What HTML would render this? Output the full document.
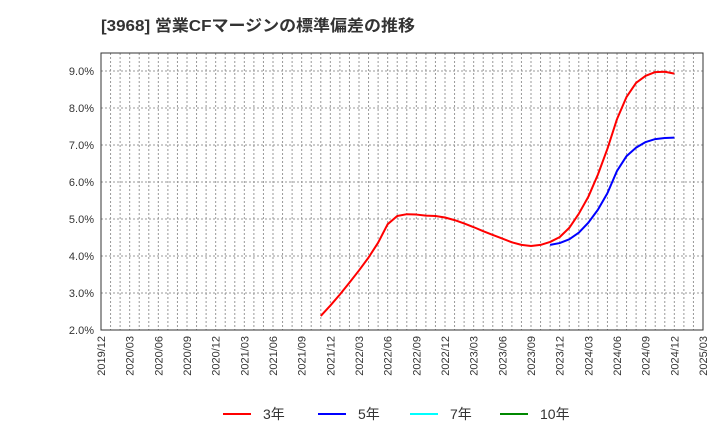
<!DOCTYPE html>
<html><head><meta charset="utf-8"><style>
body{margin:0;background:#fff;font-family:"Liberation Sans","Noto Sans CJK JP",sans-serif}
svg text{font-family:"Liberation Sans","Noto Sans CJK JP",sans-serif}
</style></head><body>
<svg id="c" width="720" height="440" xmlns="http://www.w3.org/2000/svg">
<text x="101" y="31" font-size="16" font-weight="bold" fill="#333" textLength="314" lengthAdjust="spacingAndGlyphs">[3968]  営業CFマージンの標準偏差の推移</text>
<g id="grid"></g><g id="axes"></g><g id="series"></g>
<g id="legend"></g>
</svg>
<script>
const xLabels=["2019/12","2020/03","2020/06","2020/09","2020/12","2021/03","2021/06","2021/09","2021/12","2022/03","2022/06","2022/09","2022/12","2023/03","2023/06","2023/09","2023/12","2024/03","2024/06","2024/09","2024/12","2025/03"];
const yTicks=[2,3,4,5,6,7,8,9];
const s3Start=23;
const s3=[2.38,2.66,2.96,3.28,3.61,3.96,4.36,4.86,5.08,5.13,5.12,5.09,5.08,5.04,4.97,4.88,4.78,4.67,4.57,4.47,4.37,4.30,4.27,4.30,4.38,4.51,4.76,5.14,5.6,6.2,6.9,7.7,8.3,8.68,8.87,8.97,8.98,8.93];
const s5Start=47;
const s5=[4.3,4.35,4.45,4.63,4.9,5.25,5.7,6.3,6.7,6.93,7.08,7.16,7.19,7.2];
const L=101,R=703,T=53,B=330,months=63;
const X=m=>L+m*(R-L)/months;
const Y=v=>330-(v-2)*37;
const NS="http://www.w3.org/2000/svg";
function mk(t,a,p){const e=document.createElementNS(NS,t);for(const k in a)e.setAttribute(k,a[k]);p.appendChild(e);return e;}
const g=document.getElementById('grid'),ax=document.getElementById('axes'),se=document.getElementById('series'),lg=document.getElementById('legend');
for(let m=1;m<months;m++){const l=mk('line',{x1:X(m),x2:X(m),y1:T,y2:B,stroke:'#999','stroke-dasharray':'2,2','stroke-width':1},g);

}
yTicks.forEach(v=>{const l=mk('line',{x1:L,x2:R,y1:Y(v),y2:Y(v),stroke:'#999','stroke-dasharray':'2,2','stroke-width':1},g);


const t=mk('text',{x:94,y:Y(v)+4,'text-anchor':'end','font-size':11,fill:'#333'},ax);t.textContent=v.toFixed(1)+'%';

});
const fr=mk('rect',{x:L,y:T,width:R-L,height:B-T,fill:'none',stroke:'#333','stroke-width':1},ax);


xLabels.forEach((s,i)=>{const x=X(i*3)+4;const t=mk('text',{x:x,y:336,'text-anchor':'end','font-size':11,fill:'#333',transform:`rotate(-90 ${x} 336)`},ax);t.textContent=s;

});
function line(arr,st,col,name){const p=mk('polyline',{points:arr.map((v,i)=>X(st+i)+','+Y(v)).join(' '),fill:'none',stroke:col,'stroke-width':2,'stroke-linejoin':'round'},se);

}
line(s3,s3Start,'#f00','series-3y');
line(s5,s5Start,'#00f','series-5y');
[["3年","#f00",223],["5年","#00f",318],["7年","#0ff",410],["10年","#080",500]].forEach(([n,c,x])=>{
const l=mk('line',{x1:x,x2:x+28,y1:414,y2:414,stroke:c,'stroke-width':2},lg);


const t=mk('text',{x:x+40,y:419,'font-size':14,fill:'#333'},lg);t.textContent=n;

});
</script>
</body></html>
